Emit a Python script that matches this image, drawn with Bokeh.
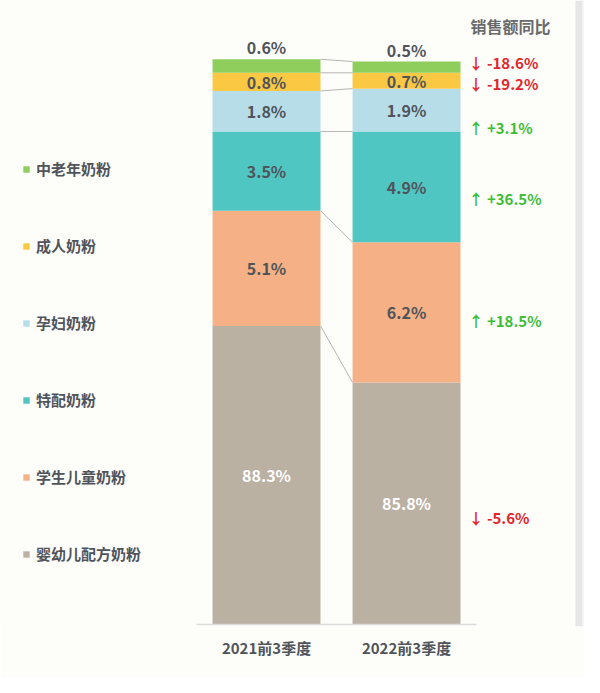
from bokeh.plotting import figure
from bokeh.models import Range1d, FixedTicker, Legend, LegendItem, ColumnDataSource, Label, BoxAnnotation
from bokeh.core.properties import value
from bokeh.embed import file_html
from bokeh.resources import INLINE

# ---------------- data ----------------
periods = ["2021前3季度", "2022前3季度"]
categories = ["婴幼儿配方奶粉", "学生儿童奶粉", "特配奶粉", "孕妇奶粉", "成人奶粉", "中老年奶粉"]  # bottom -> top
share_2021 = [88.3, 5.1, 3.5, 1.8, 0.8, 0.6]
share_2022 = [85.8, 6.2, 4.9, 1.9, 0.7, 0.5]
yoy_2022 = [-5.6, 18.5, 36.5, 3.1, -19.2, -18.6]
yoy_title = "销售额同比"

# ---------------- style ----------------
colors = ["#bab1a3", "#f5b185", "#4fc6c2", "#b7dde9", "#fbc844", "#8fce5c"]
FONT = "Noto Sans CJK SC"
TXT = "#50545a"
BASE = 75.09         # broken-axis baseline of the stacked bars
W = 0.771
XC = [0.5, 1.5]
yoy_offsets = [14, 8, 12, 17, 3, -5]   # pixel nudges of the YoY labels
BG = "#fdfdfa"

p = figure(width=584, height=677, output_backend="svg", toolbar_location=None,
           x_range=Range1d(-1.4, 2.771), y_range=Range1d(75.0, 102.70),
           y_axis_location=None,
           min_border_left=0, min_border_right=0, min_border_top=0, min_border_bottom=51,
           background_fill_color=BG, border_fill_color=BG)
p.grid.visible = False
p.outline_line_color = None

ax = p.xaxis[0]
ax.ticker = FixedTicker(ticks=XC)
ax.major_label_overrides = {XC[0]: periods[0], XC[1]: periods[1]}
ax.axis_line_color = None
ax.major_tick_line_color = None
ax.minor_tick_line_color = None
ax.major_label_text_font = FONT
ax.major_label_text_font_size = "15px"
ax.major_label_text_font_style = "bold"
ax.major_label_text_color = TXT
ax.major_label_standoff = 4

# right screenshot strip
p.add_layout(BoxAnnotation(left=575, right=582, left_units="screen", right_units="screen",
                           fill_color="#e6e6e6", fill_alpha=1, line_color=None, level="underlay"))
p.add_layout(BoxAnnotation(left=582, right=584, left_units="screen", right_units="screen",
                           fill_color="#f5f5f5", fill_alpha=1, line_color=None, level="underlay"))

# stacking
tops21, tops22 = [], []
c21 = c22 = 0.0
for a, b in zip(share_2021, share_2022):
    c21 += a
    c22 += b
    tops21.append(c21)
    tops22.append(c22)

items = []
lab_x, lab_y, lab_t, lab_c, lab_base = [], [], [], [], []
for i, cat in enumerate(categories):
    if i == 0:
        bottom = [BASE, BASE]
    else:
        bottom = [tops21[i - 1], tops22[i - 1]]
    top = [tops21[i], tops22[i]]
    r = p.vbar(x=XC, bottom=bottom, top=top, width=W, fill_color=colors[i], line_color=None)
    items.append(LegendItem(label=cat, renderers=[r]))
    for j, (s, bt, tp) in enumerate(zip([share_2021[i], share_2022[i]], bottom, top)):
        lab_x.append(XC[j])
        lab_t.append(f"{s:.1f}%")
        lab_c.append("#ffffff" if i == 0 else TXT)
        if i == len(categories) - 1:
            lab_y.append(tp)
            lab_base.append("bottom")
        else:
            lab_y.append((bt + tp) / 2)
            lab_base.append("middle")

# connectors between bars
p.segment(x0=[XC[0] + W / 2] * len(categories), x1=[XC[1] - W / 2] * len(categories),
          y0=tops21, y1=tops22, line_color="#b5b5b5", line_width=1)

# baseline
p.segment(x0=[XC[0] - 0.5], x1=[XC[1] + 0.5], y0=[BASE], y1=[BASE], line_color="#dcdcdc", line_width=1.5)

src = ColumnDataSource(dict(x=lab_x, y=lab_y, t=lab_t, c=lab_c, b=lab_base))
p.text(x="x", y="y", text="t", source=src, text_color="c", text_baseline="b", text_align="center",
       text_font=value(FONT), text_font_size="16px", text_font_style="bold")

# YoY labels
mids22 = []
for i in range(len(categories)):
    bt = BASE if i == 0 else tops22[i - 1]
    mids22.append((bt + tops22[i]) / 2)
yt = [("↓ " if v < 0 else "↑ ") + f"{v:+.1f}%" for v in yoy_2022]
yc = ["#e2262b" if v < 0 else "#3dbd3a" for v in yoy_2022]
ysrc = ColumnDataSource(dict(x=[XC[1] + W / 2] * len(yt), y=mids22, t=yt, c=yc, o=yoy_offsets))
p.text(x="x", y="y", text="t", source=ysrc, text_color="c", y_offset="o", x_offset=8,
       text_align="left", text_baseline="middle",
       text_font=value(FONT), text_font_size="15px", text_font_style="bold")

p.add_layout(Label(x=XC[1] + W / 2, y=100, x_offset=50, y_offset=36, text=yoy_title,
                   text_align="center", text_baseline="middle", text_font=FONT,
                   text_font_size="16px", text_font_style="bold", text_color="#6a6a6a"))

legend = Legend(items=list(reversed(items)), location=(22, 62), orientation="vertical",
                label_text_font=FONT, label_text_font_size="15px", label_text_font_style="bold",
                label_text_color=TXT, glyph_width=8, glyph_height=8, label_height=20,
                label_standoff=6, spacing=56, padding=0, margin=0,
                border_line_color=None, background_fill_alpha=0)
p.add_layout(legend)

open("out.html", "w").write(file_html(p, INLINE))
